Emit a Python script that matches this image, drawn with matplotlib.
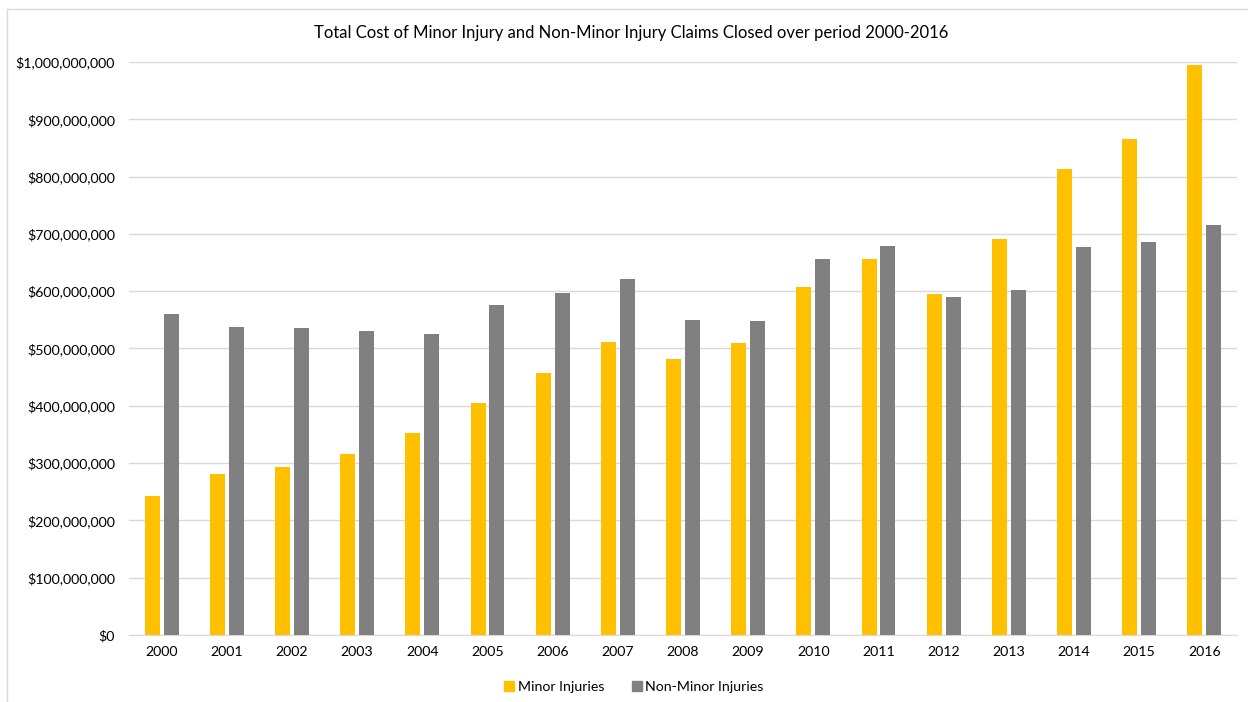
import matplotlib.pyplot as plt
from matplotlib.ticker import FuncFormatter
from matplotlib.lines import Line2D
import numpy as np

years = ['2000', '2001', '2002', '2003', '2004', '2005', '2006', '2007', '2008',
         '2009', '2010', '2011', '2012', '2013', '2014', '2015', '2016']
minor = [243e6, 281e6, 293e6, 316e6, 352e6, 405e6, 457e6, 511e6, 481e6,
         510e6, 608e6, 656e6, 595e6, 691e6, 813e6, 866e6, 995e6]
non_minor = [560e6, 537e6, 535e6, 530e6, 525e6, 576e6, 597e6, 621e6, 550e6,
             548e6, 656e6, 679e6, 590e6, 602e6, 678e6, 686e6, 715e6]

plt.rcParams['font.family'] = ['Lato', 'DejaVu Sans']

fig = plt.figure(figsize=(12.48, 7.02), dpi=100)
ax = fig.add_axes([129 / 1248, 1 - 635 / 702, 1108 / 1248, 573 / 702])

x = np.arange(len(years))
w = 0.23
ax.bar(x - 0.145, minor, w, color='#FFC000', label='Minor Injuries', zorder=3)
ax.bar(x + 0.145, non_minor, w, color='#808080', label='Non-Minor Injuries', zorder=3)

ax.set_xlim(-0.5, len(years) - 0.5)
ax.set_ylim(0, 1e9)
ax.set_yticks(np.arange(0, 1.01e9, 1e8))
ax.yaxis.set_major_formatter(FuncFormatter(lambda v, p: '${:,.0f}'.format(v)))
ax.set_xticks(x)
ax.set_xticklabels(years)
ax.tick_params(length=0, labelsize=10.2, colors='#000000', pad=8)
ax.tick_params(axis='y', pad=10)
ax.grid(axis='y', color='#D9D9D9', linewidth=1, zorder=0)
for s in ['top', 'right', 'left']:
    ax.spines[s].set_visible(False)
ax.spines['bottom'].set_color('#D9D9D9')

fig.text(631 / 1248, 1 - 33 / 702, 'Total Cost of Minor Injury and Non-Minor Injury Claims Closed over period 2000-2016',
         ha='center', va='center', fontsize=12, color='#000000')

handles = [Line2D([], [], marker='s', linestyle='', color='#FFC000', markersize=7),
           Line2D([], [], marker='s', linestyle='', color='#808080', markersize=7)]
fig.legend(handles, ['Minor Injuries', 'Non-Minor Injuries'], loc='center',
           bbox_to_anchor=(633 / 1248, 1 - 687 / 702), ncol=2, frameon=False,
           fontsize=10.2, handletextpad=0.1, columnspacing=1.8, handlelength=1)

# chart border
fig.add_artist(Line2D([7 / 1248, 7 / 1248], [0, 1 - 9 / 702], color='#D9D9D9', lw=1))
fig.add_artist(Line2D([7 / 1248, 1], [1 - 9 / 702, 1 - 9 / 702], color='#D9D9D9', lw=1))

plt.savefig('out.png', dpi=100)
